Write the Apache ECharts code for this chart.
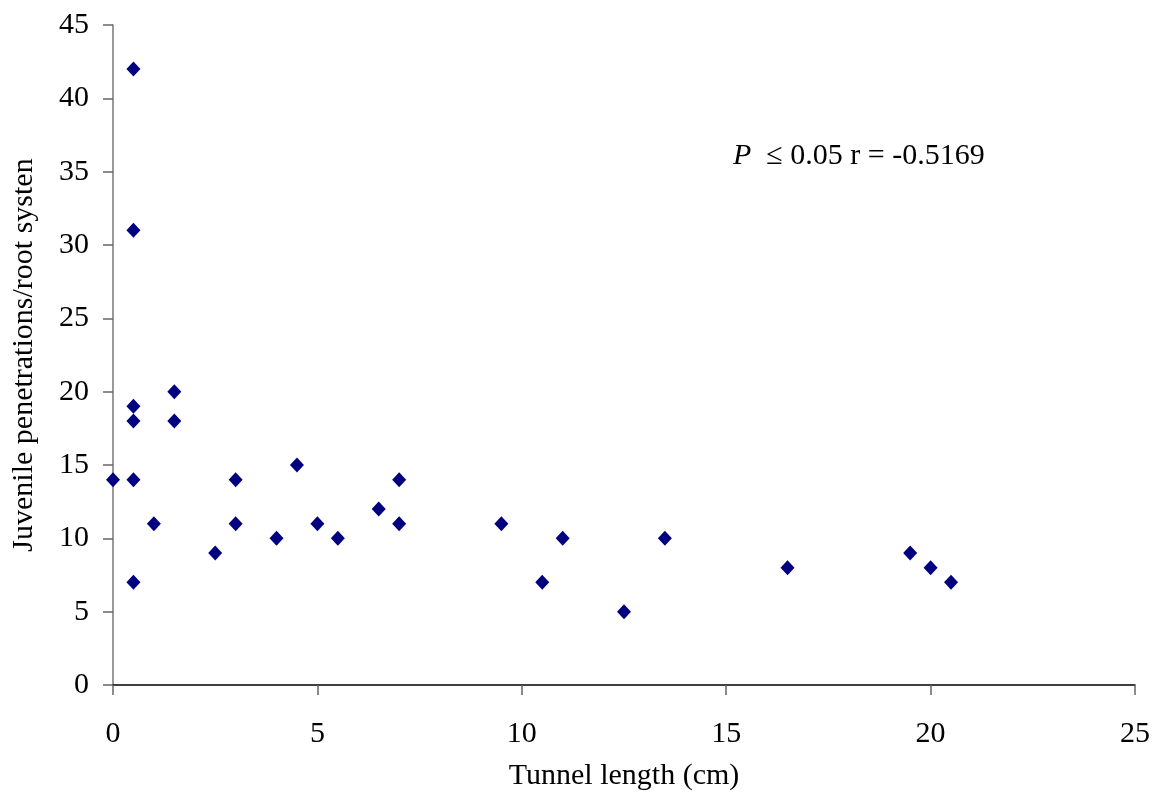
<!DOCTYPE html>
<html><head><meta charset="utf-8">
<script src="https://cdn.jsdelivr.net/npm/echarts@6/dist/echarts.min.js"></script>
<style>html,body{margin:0;padding:0;background:#fff}#c{width:1161px;height:800px}</style>
</head><body><div id="c"></div>
<script>
const tunnelLength = [0, 0.5, 0.5, 0.5, 0.5, 0.5, 0.5, 1, 1.5, 1.5, 2.5, 3, 3, 4, 4.5, 5, 5.5, 6.5, 7, 7, 9.5, 10.5, 11, 12.5, 13.5, 16.5, 19.5, 20, 20.5];
const penetrations = [14, 42, 31, 19, 18, 14, 7, 11, 20, 18, 9, 14, 11, 10, 15, 11, 10, 12, 14, 11, 11, 7, 10, 5, 10, 8, 9, 8, 7];
const xTitle = 'Tunnel length (cm)';
const yTitle = 'Juvenile penetrations/root systen';

const pts = tunnelLength.map((x, i) => [x, penetrations[i]]);
const font = '"Liberation Serif", "Times New Roman", serif';
const chart = echarts.init(document.getElementById('c'), null, {renderer: 'canvas'});
chart.setOption({
  animation: false,
  backgroundColor: '#fff',
  grid: {left: 113, right: 26, top: 25, bottom: 115, containLabel: false, outerBoundsMode: 'none'},
  xAxis: {
    type: 'value', min: 0, max: 25, interval: 5,
    name: xTitle, nameLocation: 'middle', nameGap: 76,
    nameTextStyle: {fontFamily: font, fontSize: 30, color: '#000'},
    axisLine: {lineStyle: {color: '#000', width: 1.5}},
    axisTick: {show: true, length: 10, lineStyle: {color: '#666', width: 1.5}},
    axisLabel: {fontFamily: font, fontSize: 30, color: '#000', margin: 34},
    splitLine: {show: false}
  },
  yAxis: {
    type: 'value', min: 0, max: 45, interval: 5,
    name: yTitle, nameLocation: 'middle', nameGap: 74,
    nameTextStyle: {fontFamily: font, fontSize: 30, color: '#000'},
    axisLine: {show: true, lineStyle: {color: '#777', width: 1.5}},
    axisTick: {show: true, length: 10, lineStyle: {color: '#666', width: 1.5}},
    axisLabel: {fontFamily: font, fontSize: 30, color: '#000', margin: 24},
    splitLine: {show: false}
  },
  series: [{
    type: 'scatter',
    data: pts,
    symbol: 'diamond',
    symbolSize: [14, 15],
    itemStyle: {color: '#000080', opacity: 1}
  }],
  graphic: [{
    type: 'text', left: 733, top: 141,
    style: {
      text: '{i|P}  ≤ 0.05 r = -0.5169',
      font: '30px ' + font,
      fill: '#000',
      rich: {i: {fontStyle: 'italic', fontFamily: font, fontSize: 30, fill: '#000'}}
    }
  }]
});
</script></body></html>
